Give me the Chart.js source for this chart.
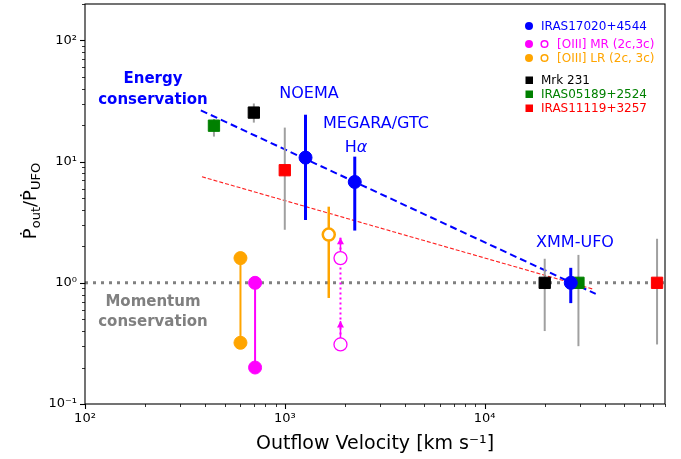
<!DOCTYPE html>
<html>
<head>
<meta charset="utf-8">
<script src="https://cdn.jsdelivr.net/npm/chart.js@4.4.1/dist/chart.umd.min.js"></script>
<style>
  html, body { margin: 0; padding: 0; background: #fff; }
  #wrap { width: 681px; height: 459px; }
</style>
</head>
<body>
<div id="wrap"><canvas id="momentumChart" width="681" height="459"></canvas></div>
<script>
// outflow velocity (km/s) vs momentum boost Pdot_out / Pdot_UFO
const iras17020Vel = [1270, 2240, 27000];
const iras17020Ratio = [10.8, 6.8, 1.0];
const iras17020Lo = [3.3, 2.7, 0.68];
const iras17020Hi = [24.4, 11.0, 1.33];

const oiiiMrVel = [710, 710];
const oiiiMrRatio = [1.0, 0.2];
const oiiiMrOpenVel = [1900, 1900];
const oiiiMrOpenRatio = [1.6, 0.31];
const oiiiMrLimit = [2.35, 0.485]; // lower limits, arrow tips

const oiiiLrVel = [600, 600];
const oiiiLrRatio = [1.6, 0.32];
const oiiiLrOpenVel = [1660];
const oiiiLrOpenRatio = [2.5];
const oiiiLrOpenLo = [0.75];
const oiiiLrOpenHi = [4.25];

const mrk231Vel = [700, 20000];
const mrk231Ratio = [25.4, 1.0];
const mrk231Lo = [21.0, 0.40];
const mrk231Hi = [30.2, 1.58];

const iras05189Vel = [442, 29500];
const iras05189Ratio = [19.8, 1.0];
const iras05189Lo = [16.1, 0.30];
const iras05189Hi = [22.5, 1.70];

const iras11119Vel = [1000, 73000];
const iras11119Ratio = [8.5, 1.0];
const iras11119Lo = [2.74, 0.31];
const iras11119Hi = [19.1, 2.31];

const energyVel = [380, 36000];
const energyRatio = [26.5, 0.81];
const fitVel = [385, 34700];
const fitRatio = [7.5, 0.89];
const unityVel = [100, 80000];
const unityRatio = [1, 1];

const xTicks = [100, 1000, 10000];
const yTicks = [0.1, 1, 10, 100];

const FONT = "'DejaVu Sans', sans-serif";
const sup = {'-': '⁻', '0': '⁰', '1': '¹', '2': '²', '3': '³', '4': '⁴'};
const powLabel = v => '10' + String(Math.round(Math.log10(v))).split('').map(c => sup[c]).join('');

const pts = (xs, ys) => xs.map((x, i) => ({x: x, y: ys[i]}));

const errorBars = (xs, lo, hi, color, width, order) => xs.map((x, i) => ({
    data: [{x: x, y: lo[i]}, {x: x, y: hi[i]}],
    showLine: true, borderColor: color, borderWidth: width, pointRadius: 0, order: order
}));

const squares = (xs, ys, color) => ({
    data: pts(xs, ys), pointStyle: 'rect', pointRadius: 8,
    backgroundColor: color, borderColor: color, borderWidth: 1, order: 10
});

const datasets = [
    {data: pts(unityVel, unityRatio), showLine: true, borderColor: '#808080', borderWidth: 3,
        borderDash: [3, 5], pointRadius: 0, order: 30},
    {data: pts(fitVel, fitRatio), showLine: true, borderColor: '#ff2020', borderWidth: 1.1,
        borderDash: [4, 2], pointRadius: 0, order: 29},
    {data: pts(energyVel, energyRatio), showLine: true, borderColor: '#0000ff', borderWidth: 2,
        borderDash: [7, 4], pointRadius: 0, order: 28},

    ...errorBars(mrk231Vel, mrk231Lo, mrk231Hi, '#a0a0a0', 2, 20),
    ...errorBars(iras05189Vel, iras05189Lo, iras05189Hi, '#a0a0a0', 2, 20),
    ...errorBars(iras11119Vel, iras11119Lo, iras11119Hi, '#a0a0a0', 2, 20),
    squares(mrk231Vel, mrk231Ratio, '#000000'),
    squares(iras05189Vel, iras05189Ratio, '#008000'),
    squares(iras11119Vel, iras11119Ratio, '#ff0000'),

    // [OIII] LR
    {data: pts(oiiiLrVel, oiiiLrRatio), showLine: true, borderColor: '#ffa500', borderWidth: 2,
        pointRadius: 6.5, pointBackgroundColor: '#ffa500', pointBorderColor: '#ffa500', pointBorderWidth: 1, order: 8},
    ...errorBars(oiiiLrOpenVel, oiiiLrOpenLo, oiiiLrOpenHi, '#ffa500', 2.5, 9),
    {data: pts(oiiiLrOpenVel, oiiiLrOpenRatio), pointRadius: 6, pointBackgroundColor: '#ffffff',
        pointBorderColor: '#ffa500', pointBorderWidth: 2.5, order: 7},

    // [OIII] MR
    {data: pts(oiiiMrVel, oiiiMrRatio), showLine: true, borderColor: '#ff00ff', borderWidth: 2,
        pointRadius: 6.5, pointBackgroundColor: '#ff00ff', pointBorderColor: '#ff00ff', pointBorderWidth: 1, order: 8},
    {data: [{x: oiiiMrOpenVel[1], y: oiiiMrOpenRatio[1]}, {x: oiiiMrOpenVel[0], y: oiiiMrLimit[0]}],
        showLine: true, borderColor: '#ff00ff', borderWidth: 2, borderDash: [2, 3], pointRadius: 0, order: 9},
    ...errorBars(oiiiMrOpenVel, oiiiMrOpenRatio, oiiiMrLimit, '#ff00ff', 1.5, 9),
    {data: pts(oiiiMrOpenVel, oiiiMrOpenRatio), pointRadius: 6.5, pointBackgroundColor: '#ffffff',
        pointBorderColor: '#ff00ff', pointBorderWidth: 1.3, order: 7},

    // IRAS17020+4544
    ...errorBars(iras17020Vel, iras17020Lo, iras17020Hi, '#0000ff', 3, 6),
    {data: pts(iras17020Vel, iras17020Ratio), pointRadius: 6.5, pointBackgroundColor: '#0000ff',
        pointBorderColor: '#0000ff', pointBorderWidth: 1, order: 5}
];

const texts = [
    {t: 'Energy', x: 153, y: 83, font: 'bold 15px ' + FONT, color: '#0000ff'},
    {t: 'conservation', x: 153, y: 104, font: 'bold 15px ' + FONT, color: '#0000ff'},
    {t: 'Momentum', x: 153, y: 306, font: 'bold 15px ' + FONT, color: '#808080'},
    {t: 'conservation', x: 153, y: 326, font: 'bold 15px ' + FONT, color: '#808080'},
    {t: 'NOEMA', x: 309, y: 98, font: '16px ' + FONT, color: '#0000ff'},
    {t: 'MEGARA/GTC', x: 376, y: 128, font: '16px ' + FONT, color: '#0000ff'},
    {t: 'XMM-UFO', x: 575, y: 247, font: '16px ' + FONT, color: '#0000ff'}
];

const legendRows = [
    {label: 'IRAS17020+4544', color: '#0000ff', marker: 'circle', y: 26},
    {label: '[OIII] MR (2c,3c)', color: '#ff00ff', marker: 'pair', y: 44},
    {label: '[OIII] LR (2c, 3c)', color: '#ffa500', marker: 'pair', y: 58},
    {label: 'Mrk 231', color: '#000000', marker: 'square', y: 80},
    {label: 'IRAS05189+2524', color: '#008000', marker: 'square', y: 94},
    {label: 'IRAS11119+3257', color: '#ff0000', marker: 'square', y: 108}
];

const decorations = {
    id: 'decorations',
    afterDatasetsDraw(chart) {
        const ctx = chart.ctx;
        const xs = chart.scales.x, ys = chart.scales.y;
        // upward arrow heads for the lower limits
        ctx.save();
        ctx.fillStyle = '#ff00ff';
        oiiiMrOpenVel.forEach((v, i) => {
            const px = xs.getPixelForValue(v);
            const py = ys.getPixelForValue(oiiiMrLimit[i]);
            ctx.beginPath();
            ctx.moveTo(px, py);
            ctx.lineTo(px - 3.5, py + 6.5);
            ctx.lineTo(px + 3.5, py + 6.5);
            ctx.closePath();
            ctx.fill();
        });
        ctx.restore();
    },
    afterDraw(chart) {
        const ctx = chart.ctx;
        const a = chart.chartArea;
        const xs = chart.scales.x, ys = chart.scales.y;
        ctx.save();

        // ticks, outward
        ctx.strokeStyle = '#000';
        xTicks.forEach(d => {
            for (let k = 1; k <= 9; k++) {
                const v = k * d;
                if (v > xs.max) break;
                const px = Math.round(xs.getPixelForValue(v)) + 0.5;
                ctx.lineWidth = k === 1 ? 1.1 : 0.8;
                ctx.beginPath();
                ctx.moveTo(px, a.bottom);
                ctx.lineTo(px, a.bottom + (k === 1 ? 5 : 3));
                ctx.stroke();
            }
        });
        yTicks.forEach(d => {
            for (let k = 1; k <= 9; k++) {
                const v = k * d;
                if (v > ys.max) break;
                const py = Math.round(ys.getPixelForValue(v)) + 0.5;
                ctx.lineWidth = k === 1 ? 1.1 : 0.8;
                ctx.beginPath();
                ctx.moveTo(a.left, py);
                ctx.lineTo(a.left - (k === 1 ? 5 : 3), py);
                ctx.stroke();
            }
        });

        // frame
        ctx.lineWidth = 1.1;
        ctx.strokeRect(a.left, a.top, a.right - a.left, a.bottom - a.top);

        // annotations
        ctx.textAlign = 'center';
        ctx.textBaseline = 'alphabetic';
        texts.forEach(o => {
            ctx.font = o.font;
            ctx.fillStyle = o.color;
            ctx.fillText(o.t, o.x, o.y);
        });
        // H alpha
        ctx.textAlign = 'left';
        ctx.fillStyle = '#0000ff';
        ctx.font = '16px ' + FONT;
        const wH = ctx.measureText('H').width;
        ctx.font = 'italic 16px ' + FONT;
        const wA = ctx.measureText('α').width;
        const hx = 356 - (wH + wA) / 2;
        ctx.font = '16px ' + FONT;
        ctx.fillText('H', hx, 152);
        ctx.font = 'italic 16px ' + FONT;
        ctx.fillText('α', hx + wH, 152);

        // legend
        ctx.textBaseline = 'middle';
        legendRows.forEach(r => {
            ctx.fillStyle = r.color;
            ctx.strokeStyle = r.color;
            if (r.marker === 'square') {
                ctx.fillRect(525.5, r.y - 3.5, 7.5, 7.5);
            } else {
                ctx.beginPath();
                ctx.arc(529, r.y, 4, 0, Math.PI * 2);
                ctx.fill();
            }
            let tx = 541;
            if (r.marker === 'pair') {
                ctx.lineWidth = 1.5;
                ctx.beginPath();
                ctx.arc(544.5, r.y, 3.3, 0, Math.PI * 2);
                ctx.stroke();
                tx = 557;
            }
            ctx.font = '12px ' + FONT;
            ctx.fillText(r.label, tx, r.y + 1);
        });

        // x axis title
        ctx.fillStyle = '#000';
        ctx.textAlign = 'center';
        ctx.textBaseline = 'alphabetic';
        ctx.font = '19px ' + FONT;
        ctx.fillText('Outflow Velocity [km s⁻¹]', (a.left + a.right) / 2, 449);

        // y axis title with subscripts
        const parts = [
            {t: 'Ṗ', size: 18, dy: 0},
            {t: 'out', size: 13, dy: 4},
            {t: '/Ṗ', size: 18, dy: 0},
            {t: 'UFO', size: 13, dy: 4}
        ];
        let total = 0;
        parts.forEach(p => {
            ctx.font = p.size + 'px ' + FONT;
            p.w = ctx.measureText(p.t).width;
            total += p.w;
        });
        ctx.translate(36, 201);
        ctx.rotate(-Math.PI / 2);
        ctx.textAlign = 'left';
        let cx = -total / 2;
        parts.forEach(p => {
            ctx.font = p.size + 'px ' + FONT;
            ctx.fillText(p.t, cx, p.dy);
            cx += p.w;
        });
        ctx.restore();
    }
};

new Chart(document.getElementById('momentumChart'), {
    type: 'scatter',
    data: {datasets: datasets},
    options: {
        responsive: false,
        animation: false,
        events: [],
        layout: {autoPadding: false, padding: {top: 4, right: 16, left: 0, bottom: 0}},
        plugins: {legend: {display: false}, tooltip: {enabled: false}},
        scales: {
            x: {
                type: 'logarithmic',
                min: 100,
                max: 80000,
                afterBuildTicks: s => { s.ticks = xTicks.map(v => ({value: v})); },
                afterFit: s => { s.height = 55; s.paddingLeft = 0; s.paddingRight = 0; },
                grid: {display: false, drawTicks: true, tickLength: 5},
                border: {display: false},
                ticks: {
                    callback: v => powLabel(v),
                    color: '#000',
                    font: {family: FONT, size: 13},
                    padding: 2,
                    maxRotation: 0,
                    autoSkip: false
                }
            },
            y: {
                type: 'logarithmic',
                min: 0.1,
                max: 200,
                afterBuildTicks: s => { s.ticks = yTicks.map(v => ({value: v})); },
                afterFit: s => { s.width = 85; s.paddingTop = 0; s.paddingBottom = 0; },
                grid: {display: false, drawTicks: true, tickLength: 5},
                border: {display: false},
                ticks: {
                    callback: v => powLabel(v),
                    color: '#000',
                    font: {family: FONT, size: 13},
                    padding: 3,
                    autoSkip: false
                }
            }
        }
    },
    plugins: [decorations]
});
</script>
</body>
</html>
